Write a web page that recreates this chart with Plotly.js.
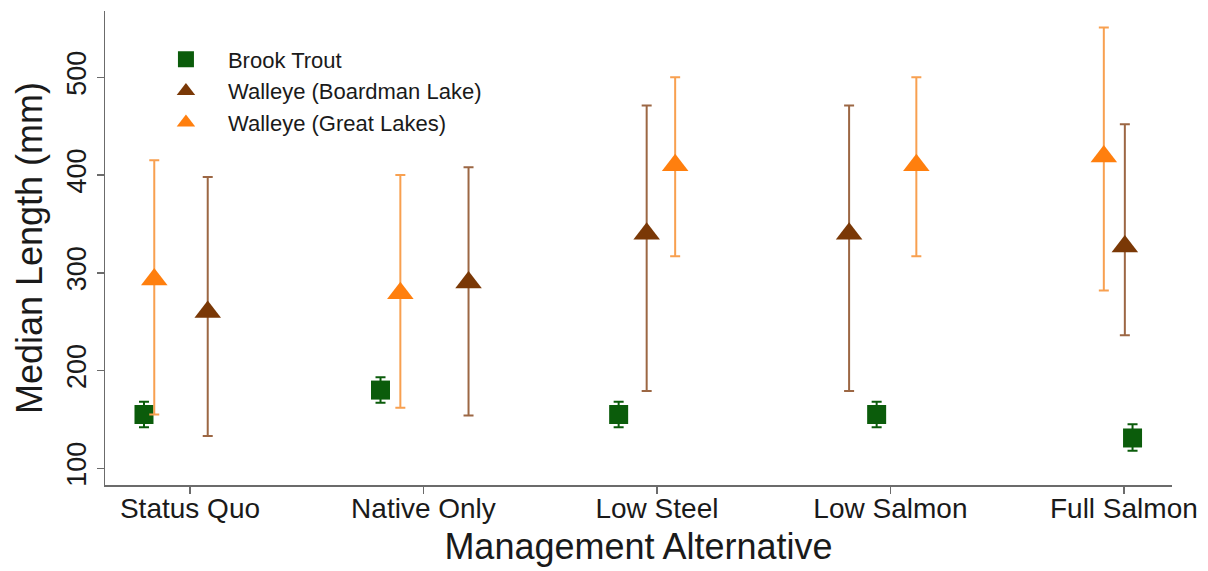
<!DOCTYPE html>
<html>
<head>
<meta charset="utf-8">
<script src="https://cdn.plot.ly/plotly-3.0.1.min.js"></script>
<style>
  html, body { margin: 0; padding: 0; background: #ffffff; }
  #chart { width: 1208px; height: 571px; }
</style>
</head>
<body>
<div id="chart"></div>
<script>
// Categories (management alternatives)
const categories = ["Status Quo", "Native Only", "Low Steel", "Low Salmon", "Full Salmon"];

// Brook Trout: median length and interval (mm)
const brookMedian = [155, 180, 155, 155, 131];
const brookUpper  = [168, 193, 168, 168, 145];
const brookLower  = [142, 167, 142, 142, 118];
const brookJitter = [-0.197, -0.184, -0.164, -0.059, 0.037];

// Walleye (Boardman Lake)
const boardMedian = [260, 290, 340, 340, 327];
const boardUpper  = [398, 408, 471, 471, 452];
const boardLower  = [133, 154, 179, 179, 236];
const boardJitter = [0.076, 0.193, -0.044, -0.177, 0.004];

// Walleye (Great Lakes)
const greatMedian = [293, 279, 410, 410, 419];
const greatUpper  = [415, 400, 500, 500, 551];
const greatLower  = [155, 162, 317, 317, 282];
const greatJitter = [-0.153, -0.099, 0.078, 0.111, -0.086];

const yTicks = [100, 200, 300, 400, 500];

const catIdx = categories.map((c, i) => i + 1);
const pos = (jit) => catIdx.map((v, i) => v + jit[i]);
const plus = (med, up) => med.map((m, i) => up[i] - m);
const minus = (med, lo) => med.map((m, i) => m - lo[i]);

const FONT = "Liberation Sans, Arial, Helvetica, sans-serif";

const traces = [
  {
    name: "Brook Trout",
    type: "scatter", mode: "markers",
    x: pos(brookJitter), y: brookMedian,
    marker: { symbol: "square", size: 19, color: "#0b5c0b", line: { width: 0 } },
    error_y: { type: "data", symmetric: false, array: plus(brookMedian, brookUpper),
               arrayminus: minus(brookMedian, brookLower), color: "#0b5c0b", thickness: 2, width: 5 },
    hoverinfo: "y"
  },
  {
    name: "Walleye (Boardman Lake)",
    type: "scatter", mode: "markers",
    x: pos(boardJitter), y: boardMedian,
    marker: { symbol: "triangle-up", size: 23, color: "#7a3806", line: { width: 0 } },
    error_y: { type: "data", symmetric: false, array: plus(boardMedian, boardUpper),
               arrayminus: minus(boardMedian, boardLower), color: "#9c6744", thickness: 2, width: 5 },
    hoverinfo: "y"
  },
  {
    name: "Walleye (Great Lakes)",
    type: "scatter", mode: "markers",
    x: pos(greatJitter), y: greatMedian,
    marker: { symbol: "triangle-up", size: 23, color: "#ff7f0e", line: { width: 0 } },
    error_y: { type: "data", symmetric: false, array: plus(greatMedian, greatUpper),
               arrayminus: minus(greatMedian, greatLower), color: "#f8a050", thickness: 2, width: 5 },
    hoverinfo: "y"
  }
];

const layout = {
  width: 1208, height: 571,
  paper_bgcolor: "#ffffff", plot_bgcolor: "#ffffff",
  font: { family: FONT, color: "#1a1a1a" },
  margin: { l: 105, r: 36, t: 11, b: 86, pad: 0 },
  showlegend: true,
  legend: {
    x: 0.0365, y: 0.942, xanchor: "left", yanchor: "top",
    font: { family: FONT, size: 22, color: "#1a1a1a" },
    bgcolor: "rgba(0,0,0,0)", borderwidth: 0,
    itemwidth: 74, tracegroupgap: 0
  },
  xaxis: {
    range: [0.636, 5.206],
    tickmode: "array", tickvals: catIdx, ticktext: categories,
    showgrid: false, zeroline: false,
    showline: true, linecolor: "#6b6b6b", linewidth: 1.5,
    ticks: "outside", ticklen: 7, tickcolor: "#6b6b6b", tickwidth: 1.5,
    ticklabelstandoff: -9,
    tickfont: { family: FONT, size: 28, color: "#1a1a1a" },
    title: { text: "Management Alternative", font: { family: FONT, size: 36, color: "#1a1a1a" }, standoff: 10 },
    automargin: false
  },
  yaxis: {
    range: [82.9, 567.8],
    tickmode: "array", tickvals: yTicks,
    tickangle: -90,
    showgrid: false, zeroline: false,
    showline: true, linecolor: "#6b6b6b", linewidth: 1.5,
    ticks: "outside", ticklen: 7, tickcolor: "#6b6b6b", tickwidth: 1.5,
    tickfont: { family: FONT, size: 27, color: "#1a1a1a" },
    title: { text: "Median Length (mm)", font: { family: FONT, size: 36, color: "#1a1a1a" }, standoff: 8 },
    automargin: false
  }
};

Plotly.newPlot("chart", traces, layout, { displayModeBar: false, staticPlot: true });
</script>
</body>
</html>
